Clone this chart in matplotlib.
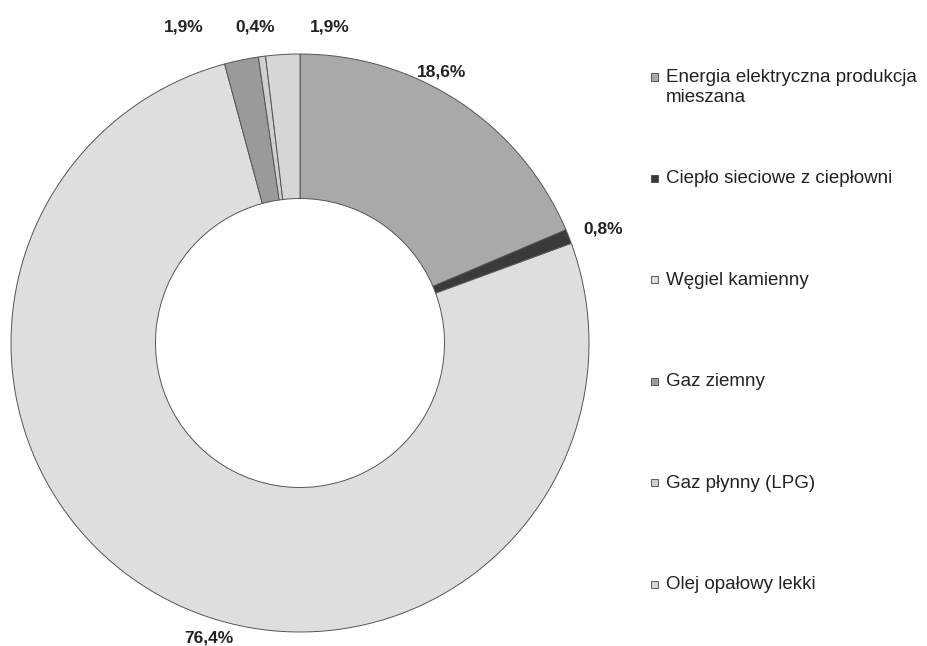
import matplotlib.pyplot as plt
from matplotlib.patches import Rectangle

plt.rcParams['font.family'] = ['Liberation Sans', 'DejaVu Sans']

categories = ['Energia elektryczna produkcja\nmieszana', 'Ciepło sieciowe z ciepłowni',
              'Węgiel kamienny', 'Gaz ziemny', 'Gaz płynny (LPG)', 'Olej opałowy lekki']
shares = [18.6, 0.8, 76.4, 1.9, 0.4, 1.9]
pct_labels = ['18,6%', '0,8%', '76,4%', '1,9%', '0,4%', '1,9%']
colors = ['#a9a9a9', '#3a3a3a', '#dedede', '#9a9a9a', '#cfcfcf', '#d6d6d6']
# label placement (pie radius = 1)
label_pos = [(0.491, 0.938), (1.048, 0.394), (-0.315, -1.021),
             (-0.401, 1.093), (-0.156, 1.093), (0.104, 1.093)]

fig = plt.figure(figsize=(9.28, 6.46), dpi=100)
ax = fig.add_axes([11 / 928, 14 / 646, 578 / 928, 578 / 646])
ax.pie(shares, colors=colors, startangle=90, counterclock=False, radius=1,
       wedgeprops=dict(width=0.5, edgecolor='#555555', linewidth=0.7))
ax.set_xlim(-1, 1)
ax.set_ylim(-1, 1)
ax.set_aspect('equal')
ax.axis('off')

for txt, (x, y) in zip(pct_labels, label_pos):
    ax.text(x, y, txt, ha='center', va='center', fontsize=12.5,
            fontweight='bold', color='#222222', clip_on=False)

# legend drawn by hand to match the spacing of the original
y_top, y_bot = 1 - 77 / 646, 1 - 584 / 646
step = (y_top - y_bot) / (len(categories) - 1)
for i, (lab, c) in enumerate(zip(categories, colors)):
    y = y_top - i * step
    fig.patches.append(Rectangle((651 / 928, y - 3.5 / 646), 7 / 928, 7 / 646,
                                 transform=fig.transFigure, facecolor=c,
                                 edgecolor='#444444', linewidth=0.6))
    fig.text(666 / 928, y + 8 / 646, lab, ha='left', va='top', fontsize=13.5,
             color='#222222', linespacing=1.25)

fig.savefig('out.png', dpi=100)
